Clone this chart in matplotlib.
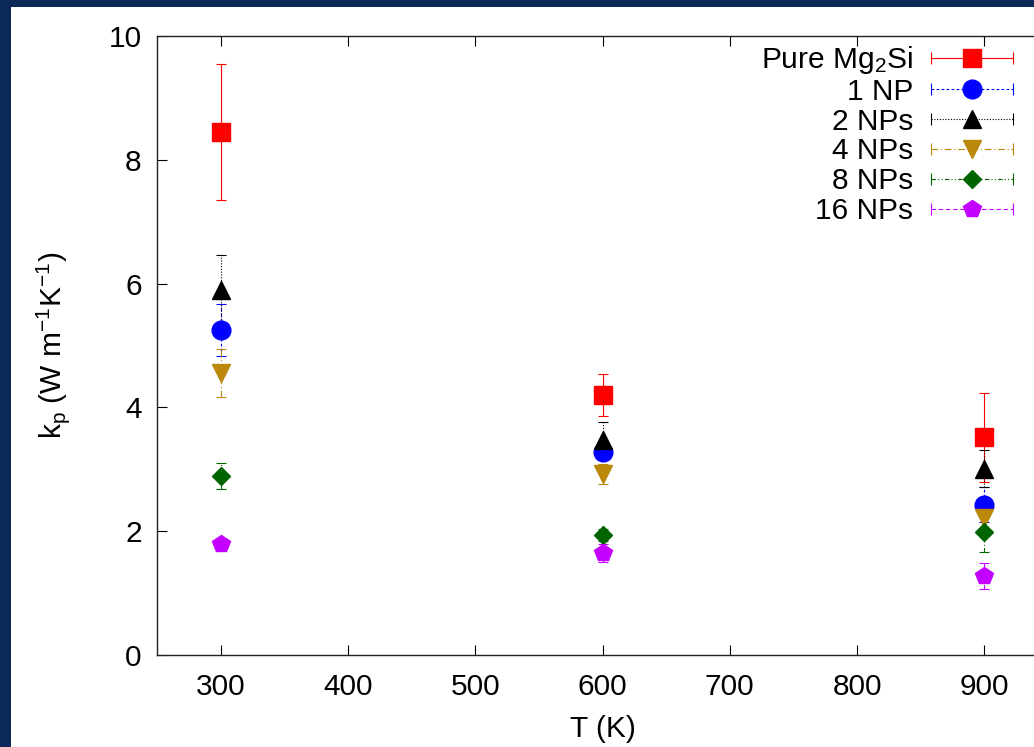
import numpy as np
import matplotlib.pyplot as plt
from matplotlib.lines import Line2D
from matplotlib.patches import Rectangle
from matplotlib.legend_handler import HandlerBase

plt.rcParams['font.family'] = ['Liberation Sans', 'DejaVu Sans']
plt.rcParams['mathtext.default'] = 'regular'

temps = [300, 600, 900]

labels = ['Pure Mg$_2$Si', '1 NP', '2 NPs', '4 NPs', '8 NPs', '16 NPs']
kp = [
    [8.45, 4.20, 3.52],
    [5.25, 3.28, 2.43],
    [5.90, 3.47, 3.01],
    [4.55, 2.93, 2.22],
    [2.89, 1.94, 1.99],
    [1.79, 1.65, 1.27],
]
kp_err = [
    [1.10, 0.34, 0.72],
    [0.42, 0.13, 0.28],
    [0.57, 0.30, 0.30],
    [0.39, 0.16, 0.20],
    [0.21, 0.10, 0.33],
    [0.05, 0.15, 0.21],
]

colors = ['#ff0000', '#0000ff', '#000000', '#bb880c', '#006400', '#c400ff']
markers = ['s', 'o', '^', 'v', 'D', 'p']
msizes = [13, 13.5, 13, 13, 9.5, 13]
styles = ['-', (0, (2.5, 2)), (0, (1, 1.5)), (0, (6, 2.5, 1, 2.5)),
          (0, (4, 2, 1, 2, 1, 2)), (0, (4, 2.5))]


class GnuplotKey(HandlerBase):
    # horizontal error-bar sample with caps and marker, gnuplot style
    def create_artists(self, legend, orig_handle, xdescent, ydescent,
                       width, height, fontsize, trans):
        c, m, ms, ls = orig_handle
        y = height / 2 - ydescent
        x0, x1 = -xdescent, width - xdescent
        line = Line2D([x0, x1], [y, y], color=c, ls=ls, lw=0.8)
        caps = Line2D([x0, x1], [y, y], color=c, ls='none', marker='|',
                      ms=8, mew=0.8)
        mk = Line2D([(x0 + x1) / 2], [y], color=c, ls='none', marker=m, ms=ms)
        for a in (line, caps, mk):
            a.set_transform(trans)
        return [line, caps, mk]


W, H = 1034, 747
fig = plt.figure(figsize=(W / 100, H / 100), dpi=100)
fig.patch.set_facecolor('#0b2a57')
fig.add_artist(Rectangle((11 / W, 0), 1, (H - 7) / H, transform=fig.transFigure,
                         facecolor='white', edgecolor='none', zorder=-10))

ax = fig.add_axes([157 / W, (H - 655) / H, (1048 - 157) / W, (655 - 36) / H])

handles = []
for i in range(len(labels)):
    cont = ax.errorbar(temps, kp[i], yerr=kp_err[i], color=colors[i],
                       marker=markers[i], ms=msizes[i], ls='none',
                       elinewidth=0.8, capsize=3.3, capthick=0.8)
    cont[2][0].set_linestyle(styles[i])
    handles.append((colors[i], markers[i], msizes[i], styles[i]))

ax.set_xlim(250, 950)
ax.set_ylim(0, 10)
ax.set_xticks(np.arange(300, 901, 100))
ax.set_yticks(np.arange(0, 11, 2))
ax.tick_params(direction='in', top=True, right=True, length=7, width=0.8,
               labelsize=21.5)
ax.tick_params(axis='x', pad=13)
ax.tick_params(axis='y', pad=11)
for s in ax.spines.values():
    s.set_linewidth(1.0)
    s.set_color('#222222')

ax.set_xlabel('T (K)', fontsize=21.5, labelpad=10)
ax.set_ylabel('k$_p$ (W m$^{-1}$K$^{-1}$)', fontsize=21.5, labelpad=26)

leg = ax.legend(handles, labels, handler_map={tuple: GnuplotKey()},
                loc='upper right', bbox_to_anchor=(1013 / W, (H - 44) / H),
                bbox_transform=fig.transFigure, frameon=False, markerfirst=False,
                fontsize=21.5, handlelength=2.75, handletextpad=0.6,
                labelspacing=0.06, borderpad=0, borderaxespad=0)

fig.savefig('out.png', dpi=100, facecolor=fig.get_facecolor())
